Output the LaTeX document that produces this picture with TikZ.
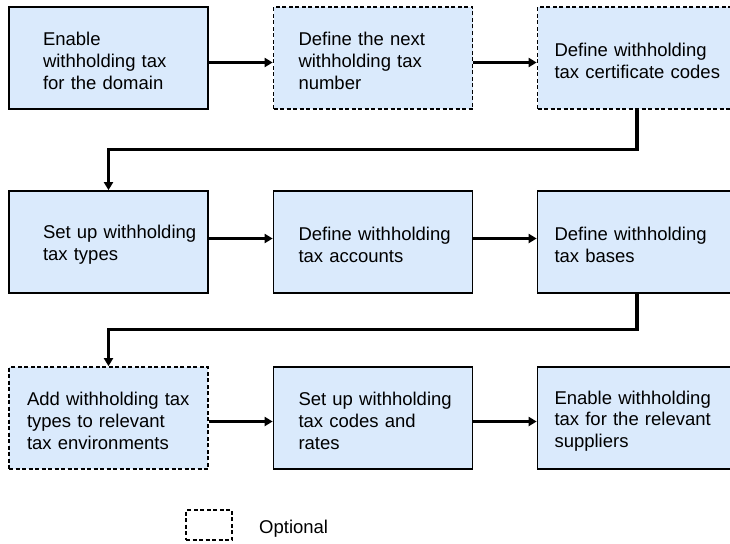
\documentclass[tikz,border=0pt]{standalone}
\usepackage{fontspec}
\setmainfont{Liberation Sans}
\usetikzlibrary{arrows.meta}
\definecolor{boxblue}{RGB}{218,234,252}
\begin{document}
\begin{tikzpicture}[x=1pt,y=-1pt,
    stepbox/.style={draw,line width=1.7pt,fill=boxblue,minimum height=102pt,text width=191pt,text height=19.5pt,inner xsep=4pt,align=left,font=\fontsize{18.5pt}{21.7pt}\selectfont},
    optional/.style={dash pattern=on 4pt off 2.5pt},
    inset/.style={execute at begin node={\leftskip=#1}},
    flow/.style={line width=3.2pt,-{Triangle[length=8pt,width=9pt]}}]
  \useasboundingbox (0,0) rectangle (730,543);
  \clip (0,0) rectangle (730,543);

  \node[stepbox,inset=30pt] (enable) at (108.5,58) {Enable\\withholding tax\\for the domain};
  \node[stepbox,optional,inset=21pt] (nextno) at (373,58) {Define the next\\withholding tax\\number};
  \node[stepbox,optional,inset=13pt] (certcodes) at (637,58) {Define withholding\\tax certificate codes};

  \node[stepbox,inset=30pt] (taxtypes) at (108.5,242) {Set up withholding\\tax types};
  \node[stepbox,inset=21pt] (accounts) at (373,242) {Define withholding\\tax accounts};
  \node[stepbox,inset=13pt] (bases) at (637,242) {Define withholding\\tax bases};

  \node[stepbox,optional,inset=14pt] (addtypes) at (108.5,418) {Add withholding tax\\types to relevant\\tax environments};
  \node[stepbox,inset=21pt] (taxcodes) at (373,418) {Set up withholding\\tax codes and\\rates};
  \node[stepbox,inset=13pt] (suppliers) at (637,418) {Enable withholding\\tax for the relevant\\suppliers};

  \node[draw,line width=1.7pt,optional,minimum width=46pt,minimum height=30pt] (optkey) at (209,525) {};
  \node[anchor=base west,inner sep=0pt,font=\fontsize{18.5pt}{21.7pt}\selectfont] (optlabel) at (259,533) {Optional};

  \draw[flow] ([yshift=-4.5pt]enable.east) -- ([yshift=-4.5pt]nextno.west);
  \draw[flow] ([yshift=-4.5pt]nextno.east) -- ([yshift=-4.5pt]certcodes.west);
  \draw[flow] (certcodes.south) -- ++(0,40) -| (taxtypes.north);
  \draw[flow] ([yshift=3.5pt]taxtypes.east) -- ([yshift=3.5pt]accounts.west);
  \draw[flow] ([yshift=3.5pt]accounts.east) -- ([yshift=3.5pt]bases.west);
  \draw[flow] (bases.south) -- ++(0,36) -| (addtypes.north);
  \draw[flow] ([yshift=-3.5pt]addtypes.east) -- ([yshift=-3.5pt]taxcodes.west);
  \draw[flow] ([yshift=-3.5pt]taxcodes.east) -- ([yshift=-3.5pt]suppliers.west);
\end{tikzpicture}
\end{document}
